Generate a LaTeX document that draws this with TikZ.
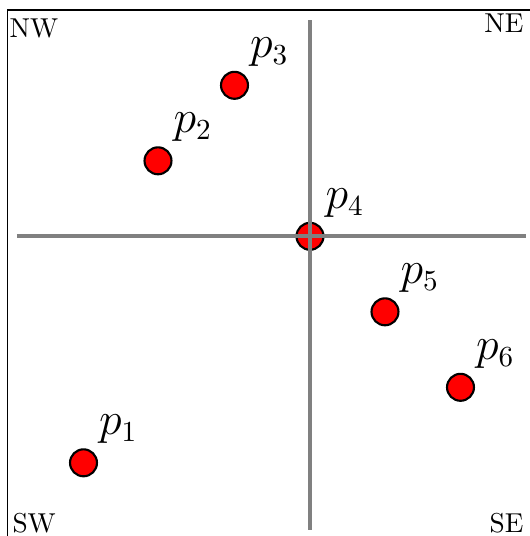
\documentclass[tikz,border=0pt]{standalone}
\usetikzlibrary{calc}
\begin{document}
\begin{tikzpicture}[x=0.013245cm,y=-0.013245cm,
  pt/.style={circle,draw=black,fill=red,line width=0.8pt,minimum size=0.357cm,inner sep=0pt},
  plab/.style={anchor=base west,inner sep=0pt,font=\fontsize{16}{19}\selectfont},
  corner/.style={inner sep=0pt,font=\fontsize{10.3}{12}\selectfont},
  axis/.style={draw=gray,line width=1.5pt}]
\useasboundingbox (0,0) rectangle (530,536);
\draw[line width=0.4pt] (7.5,540) -- (7.5,10) -- (540,10);
\node[corner,anchor=base west] (nw) at (9,37) {NW};
\node[corner,anchor=base east] (ne) at (524,32) {NE};
\node[corner,anchor=base west] (sw) at (12,532) {SW};
\node[corner,anchor=base east] (se) at (524,532) {SE};
\node[pt] (p1) at (83.5,462.8) {};
\node[pt] (p2) at (158,160.8) {};
\node[pt] (p3) at (234.5,85.3) {};
\node[pt] (p4) at (310,236.3) {};
\node[pt] (p5) at (385,311.8) {};
\node[pt] (p6) at (460.5,387.3) {};
\coordinate (vt) at (310,20);
\coordinate (vb) at (310,530);
\coordinate (hl) at (17,236.3);
\coordinate (hr) at (526,236.3);
\draw[axis] (vt) -- (vb);
\draw[axis] (hl) -- (hr);
\foreach \i in {1,...,6}{
  \node[plab] (l\i) at ($(p\i)+(15,-28)$) {$p_{\i}$};
}
\end{tikzpicture}
\end{document}
